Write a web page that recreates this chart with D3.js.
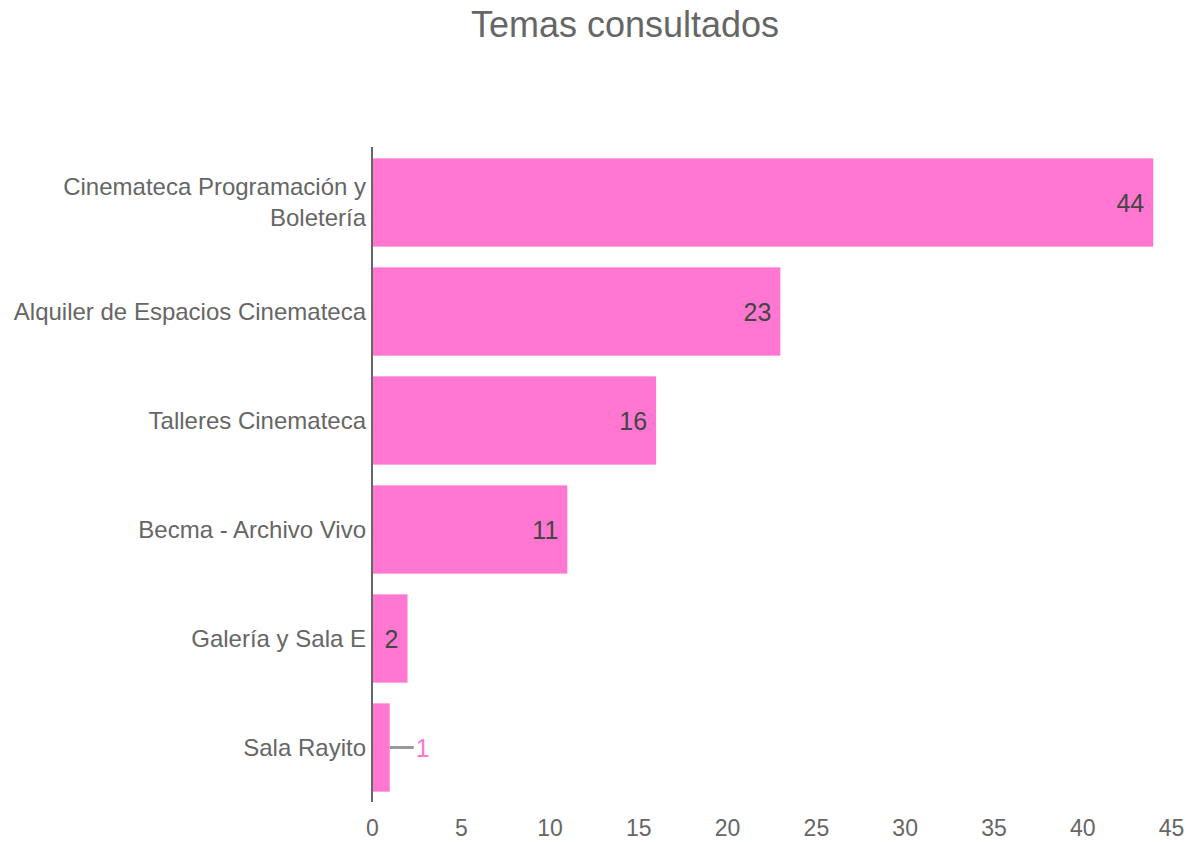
<!DOCTYPE html>
<html>
<head>
<meta charset="utf-8">
<title>Temas consultados</title>
<script src="https://cdn.jsdelivr.net/npm/d3@7"></script>
<style>
  body { margin: 0; background: #fff; }
  svg text { font-family: Arial, "Liberation Sans", sans-serif; }
</style>
</head>
<body>
<svg id="chart" width="1186" height="842"></svg>
<script>
  // data
  var categories = [
    ["Cinemateca Programación y", "Boletería"],
    ["Alquiler de Espacios Cinemateca"],
    ["Talleres Cinemateca"],
    ["Becma - Archivo Vivo"],
    ["Galería y Sala E"],
    ["Sala Rayito"]
  ];
  var values = [44, 23, 16, 11, 2, 1];
  var xTicks = [0, 5, 10, 15, 20, 25, 30, 35, 40, 45];

  var svg = d3.select("#chart");
  var plotLeft = 372, plotRight = 1171, plotTop = 148, plotBottom = 802;

  var x = d3.scaleLinear().domain([0, 45]).range([plotLeft, plotRight]);
  var y = d3.scaleBand().domain(d3.range(values.length)).range([plotTop, plotBottom])
            .paddingInner(0.19).paddingOuter(0.095);

  svg.append("text")
    .attr("x", 625).attr("y", 37)
    .attr("text-anchor", "middle")
    .attr("font-size", 36)
    .attr("fill", "#666")
    .text("Temas consultados");

  // bars
  svg.selectAll(".bar")
    .data(values)
    .enter().append("rect")
      .attr("class", "bar")
      .attr("x", x(0))
      .attr("y", (d, i) => y(i))
      .attr("width", d => x(d) - x(0))
      .attr("height", y.bandwidth())
      .attr("fill", "#ff77d1");

  // value labels
  values.forEach(function(v, i) {
    var cy = y(i) + y.bandwidth() / 2;
    var w = x(v) - x(0);
    if (w > 30) {
      svg.append("text")
        .attr("x", x(v) - 9).attr("y", cy + 9)
        .attr("text-anchor", "end")
        .attr("font-size", 25)
        .attr("fill", "#444")
        .text(v);
    } else {
      svg.append("line")
        .attr("x1", x(v)).attr("x2", x(v) + 24)
        .attr("y1", cy).attr("y2", cy)
        .attr("stroke", "#999").attr("stroke-width", 3);
      svg.append("text")
        .attr("x", x(v) + 26).attr("y", cy + 9)
        .attr("font-size", 25)
        .attr("fill", "#ff77d1")
        .text(v);
    }
  });

  // category labels
  categories.forEach(function(lines, i) {
    var cy = y(i) + y.bandwidth() / 2;
    var t = svg.append("text")
      .attr("text-anchor", "end")
      .attr("font-size", 24)
      .attr("fill", "#666");
    lines.forEach(function(l, j) {
      t.append("tspan")
        .attr("x", plotLeft - 6)
        .attr("y", cy + 8 + (j - (lines.length - 1) / 2) * 31)
        .text(l);
    });
  });

  // x axis labels
  var xAxis = d3.axisBottom(x).tickValues(xTicks).tickSize(0).tickPadding(18);
  var gx = svg.append("g")
    .attr("transform", "translate(0," + plotBottom + ")")
    .call(xAxis);
  gx.select(".domain").remove();
  gx.attr("font-size", 23).attr("font-family", null);
  gx.selectAll("text").attr("fill", "#666");

  // vertical axis line
  svg.append("line")
    .attr("x1", x(0)).attr("x2", x(0))
    .attr("y1", plotTop - 1).attr("y2", plotBottom)
    .attr("stroke", "#666").attr("stroke-width", 2);
</script>
</body>
</html>
